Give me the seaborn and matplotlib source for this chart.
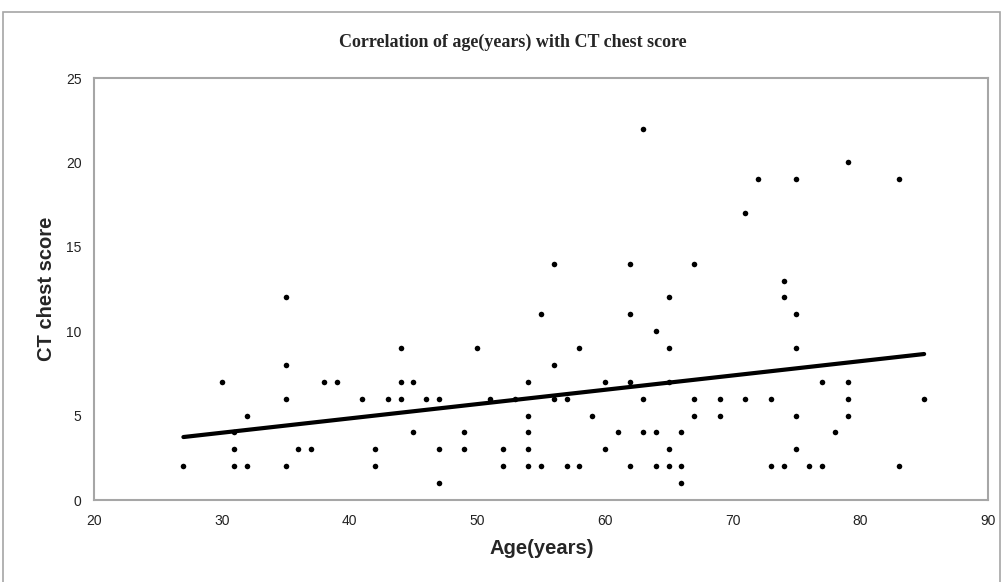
import pandas as pd
import seaborn as sns
import matplotlib.pyplot as plt
from matplotlib.patches import Rectangle

# age (years) of each patient and its CT chest score
age = [27, 30, 31, 31, 31, 32, 32, 35, 35, 35, 35, 36, 37, 38, 39, 41, 42, 42,
       43, 44, 44, 44, 45, 45, 46, 47, 47, 47, 49, 49, 50, 51, 52, 52, 53,
       54, 54, 54, 54, 54, 55, 55, 56, 56, 56, 57, 57, 58, 58, 59, 60, 60,
       61, 62, 62, 62, 62, 63, 63, 63, 64, 64, 64, 65, 65, 65, 65, 65,
       66, 66, 66, 67, 67, 67, 69, 69, 71, 71, 72, 73, 73, 74, 74, 74,
       75, 75, 75, 75, 75, 76, 77, 77, 78, 79, 79, 79, 79, 83, 83, 85]
score = [2, 7, 4, 3, 2, 5, 2, 12, 8, 6, 2, 3, 3, 7, 7, 6, 3, 2,
         6, 9, 7, 6, 7, 4, 6, 6, 3, 1, 4, 3, 9, 6, 3, 2, 6,
         7, 5, 4, 3, 2, 11, 2, 14, 8, 6, 6, 2, 9, 2, 5, 7, 3,
         4, 14, 11, 7, 2, 22, 6, 4, 10, 4, 2, 12, 9, 7, 3, 2,
         4, 2, 1, 14, 6, 5, 6, 5, 17, 6, 19, 6, 2, 13, 12, 2,
         19, 11, 9, 5, 3, 2, 7, 2, 4, 20, 7, 6, 5, 19, 2, 6]

x_ticks = [20, 30, 40, 50, 60, 70, 80, 90]
y_ticks = [0, 5, 10, 15, 20, 25]

df = pd.DataFrame({"age": age, "score": score})

sns.set_style("white")
plt.rcParams["font.family"] = ["Liberation Sans", "DejaVu Sans"]

fig = plt.figure(figsize=(10.06, 5.82), dpi=100)

# outer chart frame
fig.patches.append(Rectangle((3 / 1006, -0.02), 997 / 1006, 1.02 - 12 / 582,
                             transform=fig.transFigure, fill=False,
                             edgecolor="#a6a6a6", lw=1.2))

ax = fig.add_axes([94 / 1006, 82 / 582, 894 / 1006, 422 / 582])
sns.regplot(data=df, x="age", y="score", ci=None, ax=ax,
            scatter_kws=dict(s=16, color="black", linewidths=0, alpha=1),
            line_kws=dict(color="black", lw=3))

ax.set_xlim(20, 90)
ax.set_ylim(0, 25)
ax.set_xticks(x_ticks)
ax.set_yticks(y_ticks)
ax.set_xlabel("")
ax.set_ylabel("")
for s in ax.spines.values():
    s.set_color("#a6a6a6")
    s.set_linewidth(1.5)
ax.tick_params(axis="both", direction="inout", length=8, width=1.2,
               color="#a6a6a6", labelsize=10, labelcolor="#222222")
ax.tick_params(axis="x", pad=6)
ax.tick_params(axis="y", pad=5)

fig.text(513 / 1006, 1 - 42 / 582, "Correlation of age(years) with CT chest score",
         ha="center", va="center", fontsize=13, fontweight="bold",
         family=["Liberation Serif", "DejaVu Serif"])
fig.text(542 / 1006, 1 - 549 / 582, "Age(years)", ha="center", va="center",
         fontsize=14.5, fontweight="bold")
fig.text(47 / 1006, 1 - 289 / 582, "CT chest score", ha="center", va="center",
         rotation=90, fontsize=14.5, fontweight="bold")

fig.savefig("out.png", dpi=100)
